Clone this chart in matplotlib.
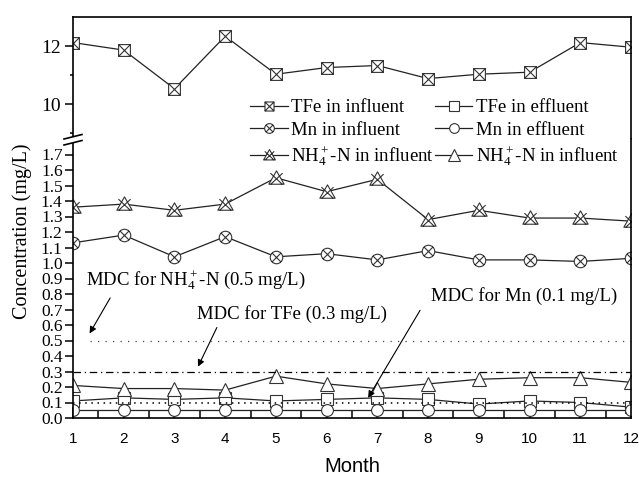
import numpy as np
import matplotlib
matplotlib.use("Agg")
import matplotlib.pyplot as plt
from matplotlib.path import Path
from matplotlib.lines import Line2D
from matplotlib.patches import Polygon
from matplotlib.ticker import MultipleLocator, FixedLocator

plt.rcParams["font.family"] = ["Liberation Serif", "DejaVu Serif"]
plt.rcParams["mathtext.fontset"] = "custom"
plt.rcParams["mathtext.rm"] = "Liberation Serif"
plt.rcParams["mathtext.it"] = "Liberation Serif:italic"

# data
months = np.arange(1, 13)
tfe_in = [12.12, 11.86, 10.53, 12.34, 11.03, 11.26, 11.33, 10.88, 11.03, 11.10, 12.12, 11.96]
tfe_out = [0.11, 0.13, 0.12, 0.13, 0.11, 0.12, 0.13, 0.12, 0.09, 0.11, 0.10, 0.07]
mn_in = [1.13, 1.18, 1.04, 1.17, 1.04, 1.06, 1.02, 1.08, 1.02, 1.02, 1.01, 1.03]
mn_out = [0.05, 0.05, 0.05, 0.05, 0.05, 0.05, 0.05, 0.05, 0.05, 0.05, 0.05, 0.05]
nh4_in = [1.36, 1.38, 1.34, 1.38, 1.55, 1.46, 1.54, 1.28, 1.34, 1.29, 1.29, 1.27]
nh4_out = [0.21, 0.19, 0.19, 0.18, 0.27, 0.22, 0.19, 0.22, 0.25, 0.26, 0.26, 0.23]
mdc_nh4, mdc_tfe, mdc_mn = 0.5, 0.3, 0.1


def crossed(outline_verts, outline_codes, x_segments):
    verts = list(outline_verts)
    codes = list(outline_codes)
    for (a, b) in x_segments:
        verts += [a, b]
        codes += [Path.MOVETO, Path.LINETO]
    return Path(verts, codes)


sq_v = [(-1, -1), (1, -1), (1, 1), (-1, 1), (-1, -1)]
sq_c = [Path.MOVETO, Path.LINETO, Path.LINETO, Path.LINETO, Path.CLOSEPOLY]
sq_x = crossed(sq_v, sq_c, [((-1, -1), (1, 1)), ((-1, 1), (1, -1))])

circ = Path.unit_circle()
circ_x = crossed(circ.vertices, circ.codes,
                 [((-0.71, -0.71), (0.71, 0.71)), ((-0.71, 0.71), (0.71, -0.71))])

tri_v = [(0, 1), (-1, -0.75), (1, -0.75), (0, 1)]
tri_c = [Path.MOVETO, Path.LINETO, Path.LINETO, Path.CLOSEPOLY]
tri_x = crossed(tri_v, tri_c, [((-0.8, 0.7), (0.75, -0.75)), ((0.8, 0.7), (-0.75, -0.75))])

W, H = 639, 480
fig = plt.figure(figsize=(6.39, 4.80), dpi=100)
left, right = 73 / W, 631 / W
y_bot, y_brk, y_top = 1 - 418 / H, 1 - 139 / H, 1 - 17 / H
ax_t = fig.add_axes([left, y_brk, right - left, y_top - y_brk])
ax_b = fig.add_axes([left, y_bot, right - left, y_brk - y_bot])

lc = "#222222"
common = dict(color=lc, lw=0.9, mfc="white", mec="#333333", mew=0.8)

ax_t.plot(months, tfe_in, marker=sq_x, ms=8.5, **common)
ax_b.plot(months, tfe_out, marker="s", ms=8, **common)
ax_b.plot(months, mn_in, marker=circ_x, ms=9, **common)
ax_b.plot(months, mn_out, marker="o", ms=8.5, **common)
ax_b.plot(months, nh4_in, marker=tri_x, ms=11, **common)
ax_b.plot(months, nh4_out, marker="^", ms=10, **common)

ax_b.axhline(mdc_nh4, xmin=0.03, color="#444444", lw=0.9, ls=(0, (1, 5)))
ax_b.axhline(mdc_tfe, color="black", lw=0.9, ls=(0, (6, 3, 1, 3)))
ax_b.axhline(mdc_mn, color="black", lw=1.1, ls=(0, (1, 3)))

for ax in (ax_t, ax_b):
    ax.set_xlim(1, 12)
    for side in ("left", "right", "top", "bottom"):
        ax.spines[side].set_linewidth(1.2)

ax_t.set_ylim(8.8, 13.0)
ax_t.spines["bottom"].set_visible(False)
ax_t.set_xticks([])
ax_t.yaxis.set_major_locator(FixedLocator([10, 12]))
ax_t.yaxis.set_minor_locator(FixedLocator([9, 11]))
ax_t.tick_params(axis="y", which="major", direction="out", length=6, width=1.1,
                 labelsize=14, pad=3)
ax_t.tick_params(axis="y", which="minor", direction="out", length=2, width=1.1)

ax_b.set_ylim(0, 1.8)
ax_b.spines["top"].set_visible(False)
ax_b.yaxis.set_major_locator(FixedLocator(np.round(np.arange(0, 1.75, 0.1), 1)))
ax_b.yaxis.set_major_formatter(matplotlib.ticker.FormatStrFormatter("%.1f"))
ax_b.tick_params(axis="y", which="major", direction="out", length=6, width=1.1,
                 labelsize=12.5, pad=1.5)
ax_b.xaxis.set_major_locator(MultipleLocator(1))
ax_b.xaxis.set_minor_locator(MultipleLocator(0.5))
ax_b.tick_params(axis="x", which="major", direction="in", length=8, width=1.1,
                 labelsize=11, pad=10)
ax_b.tick_params(axis="x", which="minor", direction="in", length=5, width=1.1)
for lab in ax_b.get_xticklabels():
    lab.set_family("Liberation Sans")

# axis break marks on the left spine
bx = 73 / W
def fy(py):
    return 1 - py / H
gap = Polygon([(bx - 8 / W, fy(139)), (bx + 8 / W, fy(135)),
               (bx + 8 / W, fy(141)), (bx - 8 / W, fy(145))],
              closed=True, transform=fig.transFigure, facecolor="white",
              edgecolor="none", zorder=10)
fig.add_artist(gap)
for py in (139, 145):
    fig.add_artist(Line2D([bx - 9 / W, bx + 9 / W], [fy(py), fy(py - 4.5)],
                          transform=fig.transFigure, color="black", lw=1.2, zorder=11))

# annotations
arrow = dict(arrowstyle="-|>", color="black", lw=0.8, mutation_scale=10)
ax_b.text(3.43, 0.89, "MDC for NH$_4^+$-N (0.5 mg/L)", fontsize=13.5, ha="center", va="center")
ax_b.annotate("", xy=(1.30, 0.53), xytext=(1.76, 0.79), arrowprops=arrow)
ax_b.text(5.32, 0.67, "MDC for TFe (0.3 mg/L)", fontsize=13.5, ha="center", va="center")
ax_b.annotate("", xy=(3.44, 0.315), xytext=(3.86, 0.60), arrowprops=arrow)
ax_b.text(9.89, 0.79, "MDC for Mn (0.1 mg/L)", fontsize=13.5, ha="center", va="center")
ax_b.annotate("", xy=(6.79, 0.115), xytext=(7.87, 0.71), arrowprops=arrow)

# legend
def handle(marker, ms):
    return Line2D([], [], marker=marker, ms=ms, **common)

handles = [handle(sq_x, 6.5), handle(circ_x, 7), handle(tri_x, 8.5),
           handle("s", 6.5), handle("o", 7), handle("^", 8)]
labels = ["TFe in influent", "Mn in influent", "NH$_4^+$-N in influent",
          "TFe in effluent", "Mn in effluent", "NH$_4^+$-N in influent"]
fig.legend(handles, labels, ncol=2, loc="upper left", bbox_to_anchor=(250 / W, 1 - 99 / H),
           frameon=False, fontsize=13.5, handlelength=2.0, handletextpad=0.2,
           columnspacing=0.05, labelspacing=0.3, borderpad=0, borderaxespad=0)

fig.text(22 / W, 1 - 231 / H, "Concentration (mg/L)", rotation=90, fontsize=14.5,
         ha="center", va="center")
fig.text(352 / W, 1 - 467 / H, "Month", fontsize=14.5, family="Liberation Sans",
         ha="center", va="center")

fig.savefig("out.png", dpi=100)
